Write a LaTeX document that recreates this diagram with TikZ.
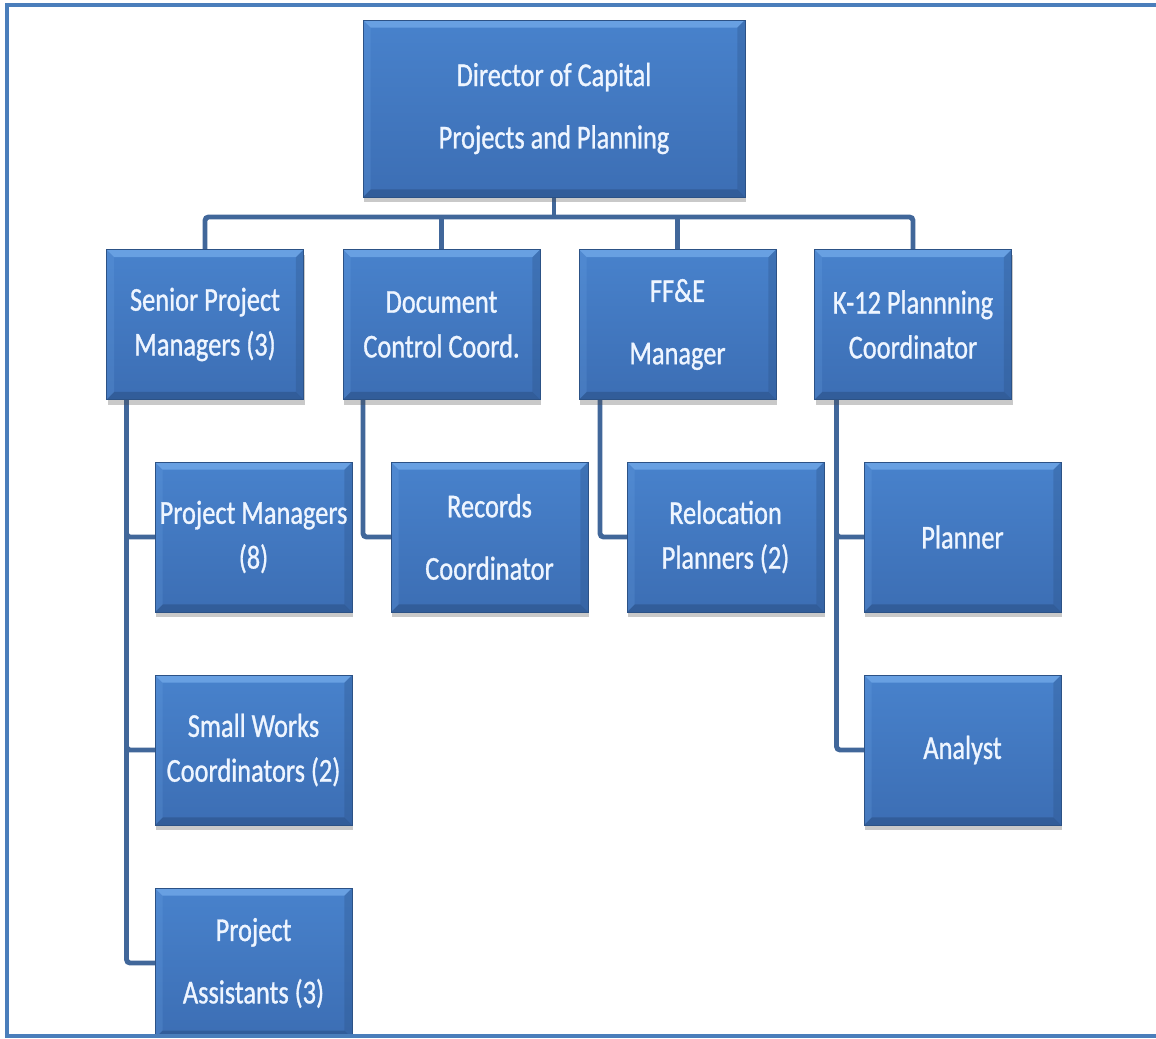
\documentclass[tikz,border=0pt]{standalone}
\usepackage{fontspec}
\setmainfont[FakeStretch=0.79,FakeBold=0.9]{Carlito}
\usetikzlibrary{shadows,calc,backgrounds}
\definecolor{boxtop}{RGB}{72,130,204}
\definecolor{boxbot}{RGB}{60,110,180}
\definecolor{boxedge}{RGB}{44,82,134}
\definecolor{bevlight}{RGB}{112,168,232}
\definecolor{bevdark}{RGB}{42,80,132}
\definecolor{conncol}{RGB}{65,103,154}
\definecolor{framecol}{RGB}{74,126,187}
\definecolor{txt}{RGB}{238,245,255}
\begin{document}
\begin{tikzpicture}[x=0.02cm,y=-0.02cm,
  box/.style={draw=boxedge, line width=0.5pt, top color=boxtop, bottom color=boxbot,
    minimum width=3.94cm, minimum height=3.0cm, inner sep=0pt, outer sep=0pt,
    align=center, text=txt, font=\fontsize{19}{25.5}\selectfont,
    drop shadow={shadow xshift=0.6pt, shadow yshift=-3pt, opacity=0.3, fill=black!70},
    path picture={
      \fill[bevlight, opacity=0.8] (path picture bounding box.north west) -- (path picture bounding box.north east)
        -- ([shift={(-0.15cm,-0.15cm)}]path picture bounding box.north east)
        -- ([shift={(0.15cm,-0.15cm)}]path picture bounding box.north west) -- cycle;
      \fill[bevdark, opacity=0.55] (path picture bounding box.south west) -- (path picture bounding box.south east)
        -- ([shift={(-0.15cm,0.15cm)}]path picture bounding box.south east)
        -- ([shift={(0.15cm,0.15cm)}]path picture bounding box.south west) -- cycle;
      \fill[bevdark, opacity=0.3] (path picture bounding box.north east) -- (path picture bounding box.south east)
        -- ([shift={(-0.15cm,0.15cm)}]path picture bounding box.south east)
        -- ([shift={(-0.15cm,-0.15cm)}]path picture bounding box.north east) -- cycle;
      \fill[bevlight, opacity=0.2] (path picture bounding box.north west) -- (path picture bounding box.south west)
        -- ([shift={(0.15cm,0.15cm)}]path picture bounding box.south west)
        -- ([shift={(0.15cm,-0.15cm)}]path picture bounding box.north west) -- cycle;
    }},
  conn/.style={draw=conncol, line width=2.8pt, rounded corners=2pt},
]
\useasboundingbox (0,0) rectangle (1156,1038);
\begin{scope}
\clip (0,0) rectangle (1156,1036);
\node[box, minimum width=7.64cm, minimum height=3.54cm] (dir) at (554,108.5) {Director of Capital\\[10pt]Projects and Planning};
\node[box] (sr)  at (205,324.5)   {Senior Project\\Managers (3)};
\node[box] (doc) at (441.5,324.5) {Document\\Control Coord.};
\node[box] (ffe) at (677.5,324.5) {FF\&E\\[10pt]Manager};
\node[box] (k12) at (913,324.5)   {K-12 Plannning\\Coordinator};
\node[box] (pm)  at (253.5,537)   {Project Managers\\(8)};
\node[box] (rec) at (489.5,537)   {Records\\[10pt]Coordinator};
\node[box] (rel) at (725.5,537)   {Relocation\\Planners (2)};
\node[box] (pla) at (962.5,537)   {Planner};
\node[box] (sw)  at (253.5,750)   {Small Works\\Coordinators (2)};
\node[box] (ana) at (962.5,750)   {Analyst};
\node[box] (pa)  at (253.5,963)   {Project\\[10pt]Assistants (3)};
\end{scope}
\begin{scope}[on background layer]
\coordinate (bus) at (554,217);
\draw[conn] (dir.south) -- (bus);
\draw[conn] (sr.north) |- (bus) -| (k12.north);
\draw[conn] (doc.north) -- (doc.north |- bus);
\draw[conn] (ffe.north) -- (ffe.north |- bus);
\coordinate (srs) at ($(sr.south west)+(20,0)$);
\draw[conn] (srs) |- (pa.west);
\draw[conn] (srs) |- (sw.west);
\draw[conn] (srs) |- (pm.west);
\coordinate (docs) at ($(doc.south west)+(20,0)$);
\draw[conn] (docs) |- (rec.west);
\coordinate (ffes) at ($(ffe.south west)+(21,0)$);
\draw[conn] (ffes) |- (rel.west);
\coordinate (k12s) at ($(k12.south west)+(22,0)$);
\draw[conn] (k12s) |- (ana.west);
\draw[conn] (k12s) |- (pla.west);
\end{scope}
\draw[framecol, line width=2.2pt] (1156,5) -- (7,5) -- (7,1036) -- (1156,1036);
\end{tikzpicture}
\end{document}
